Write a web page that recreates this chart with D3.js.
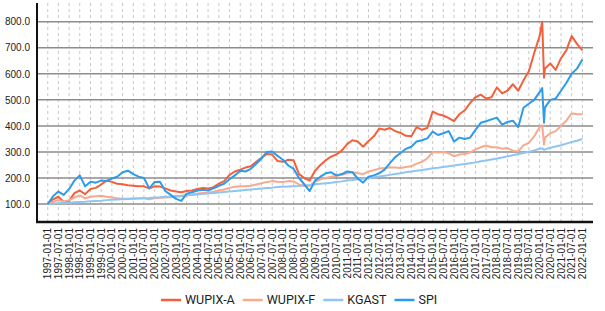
<!DOCTYPE html>
<html>
<head>
<meta charset="utf-8">
<script src="https://cdn.jsdelivr.net/npm/d3@7"></script>
<style>
  body { margin: 0; background: #fff; }
  svg { display: block; }
</style>
</head>
<body>
<div id="chart"></div>
<script>
const FRAME_WIDTH = 605;
const FRAME_HEIGHT = 311;
const MARGINS = {left: 37, right: 12, top: 3, bottom: 89};
const VIS_WIDTH = FRAME_WIDTH - MARGINS.left - MARGINS.right;
const VIS_HEIGHT = FRAME_HEIGHT - MARGINS.top - MARGINS.bottom;

// data (quarterly, plus the 2020 spike)
const dates = [
  "1997-01-01","1997-04-01","1997-07-01","1997-10-01",
  "1998-01-01","1998-04-01","1998-07-01","1998-10-01",
  "1999-01-01","1999-04-01","1999-07-01","1999-10-01",
  "2000-01-01","2000-04-01","2000-07-01","2000-10-01",
  "2001-01-01","2001-04-01","2001-07-01","2001-10-01",
  "2002-01-01","2002-04-01","2002-07-01","2002-10-01",
  "2003-01-01","2003-04-01","2003-07-01","2003-10-01",
  "2004-01-01","2004-04-01","2004-07-01","2004-10-01",
  "2005-01-01","2005-04-01","2005-07-01","2005-10-01",
  "2006-01-01","2006-04-01","2006-07-01","2006-10-01",
  "2007-01-01","2007-04-01","2007-07-01","2007-10-01",
  "2008-01-01","2008-04-01","2008-07-01","2008-10-01",
  "2009-01-01","2009-04-01","2009-07-01","2009-10-01",
  "2010-01-01","2010-04-01","2010-07-01","2010-10-01",
  "2011-01-01","2011-04-01","2011-07-01","2011-10-01",
  "2012-01-01","2012-04-01","2012-07-01","2012-10-01",
  "2013-01-01","2013-04-01","2013-07-01","2013-10-01",
  "2014-01-01","2014-04-01","2014-07-01","2014-10-01",
  "2015-01-01","2015-04-01","2015-07-01","2015-10-01",
  "2016-01-01","2016-04-01","2016-07-01","2016-10-01",
  "2017-01-01","2017-04-01","2017-07-01","2017-10-01",
  "2018-01-01","2018-04-01","2018-07-01","2018-10-01",
  "2019-01-01","2019-04-01","2019-07-01","2019-10-01",
  "2020-01-01","2020-02-15","2020-03-16","2020-04-01","2020-07-01","2020-10-01",
  "2021-01-01","2021-04-01","2021-07-01","2021-10-01",
  "2022-01-01"
];

const wupixA = [
  100,118,128,108, 112,142,152,138, 158,162,175,190, 185,178,176,172,
  170,168,168,160, 168,167,160,152, 148,145,150,152, 158,162,160,165,
  178,188,212,225, 232,240,245,262, 278,292,290,265, 262,270,268,215,
  200,190,228,250, 268,282,290,305, 330,345,340,320, 342,360,390,385,
  392,380,373,362, 360,395,385,392, 455,445,440,430, 418,445,460,488,
  510,520,505,510, 548,525,535,560, 535,575,610,680,
  745,800,585,620,640,615, 660,690,745,715, 690
];

const wupixF = [
  100,108,115,110, 115,125,133,122, 128,130,132,128, 125,122,120,120,
  121,122,122,118, 122,124,125,126, 128,130,134,137, 140,142,143,147,
  152,156,162,166, 168,168,170,175, 180,185,188,186, 185,188,187,175,
  168,170,185,195, 200,205,208,212, 218,222,218,215, 225,230,236,238,
  240,240,238,242, 245,255,262,275, 300,298,300,295, 283,290,292,298,
  310,318,325,318, 318,312,315,305, 302,325,335,360,
  395,402,328,355,372,380, 400,420,448,445, 445
];

const kgast = [
  100,101,103,104, 105,107,108,109, 111,112,113,115, 116,117,118,119,
  120,121,122,123, 125,126,128,129, 131,132,134,135, 137,139,140,142,
  144,146,148,150, 152,154,156,158, 160,162,163,165, 166,167,168,169,
  172,173,176,178, 180,182,185,187, 190,192,195,197, 200,203,206,209,
  212,215,218,222, 225,228,231,234, 237,239,242,245, 248,251,254,257,
  260,264,267,271, 275,279,283,287, 292,296,301,306,
  312,314,308,310,316,321, 326,332,338,343, 350
];

const spi = [
  100,130,148,135, 158,190,210,168, 186,182,190,188, 198,205,222,228,
  215,205,200,160, 185,186,150,135, 120,112,140,145, 152,155,152,160,
  170,178,195,210, 228,225,235,255, 275,300,302,285, 270,248,235,200,
  175,150,190,205, 218,222,210,215, 225,222,198,182, 205,210,218,232,
  257,280,296,312, 320,340,345,352, 378,365,372,380, 340,355,350,355,
  385,412,418,425, 432,405,415,420, 395,470,485,500,
  530,545,412,470,500,505, 535,565,600,620, 655
];

const seriesNames = ["WUPIX-A", "WUPIX-F", "KGAST", "SPI"];
const seriesValues = [wupixA, wupixF, kgast, spi];
const seriesColors = ["#f4603c", "#f9a98e", "#90c5f2", "#2e9be8"];

const yTicks = [100, 200, 300, 400, 500, 600, 700, 800];

const parseDate = d3.timeParse("%Y-%m-%d");
const DATES = dates.map(parseDate);

const FRAME = d3.select("#chart")
                .append("svg")
                  .attr("width", FRAME_WIDTH)
                  .attr("height", FRAME_HEIGHT);

const X_SCALE = d3.scaleTime()
                  .domain([parseDate("1996-07-01"), parseDate("2022-07-01")])
                  .range([MARGINS.left, MARGINS.left + VIS_WIDTH]);

const Y_SCALE = d3.scaleLinear()
                  .domain([31, 872])
                  .range([MARGINS.top + VIS_HEIGHT, MARGINS.top]);

const xTicks = d3.timeMonth.every(6).range(parseDate("1997-01-01"), parseDate("2022-01-02"));

// vertical dashed grid
FRAME.append("g")
  .selectAll("line")
  .data(xTicks)
  .enter()
  .append("line")
    .attr("x1", d => X_SCALE(d))
    .attr("x2", d => X_SCALE(d))
    .attr("y1", MARGINS.top)
    .attr("y2", MARGINS.top + VIS_HEIGHT)
    .attr("stroke", "#c8c8c8")
    .attr("stroke-width", 1)
    .attr("stroke-dasharray", "3,3");

// horizontal grid
FRAME.append("g")
  .selectAll("line")
  .data(yTicks)
  .enter()
  .append("line")
    .attr("x1", MARGINS.left)
    .attr("x2", MARGINS.left + VIS_WIDTH)
    .attr("y1", d => Y_SCALE(d))
    .attr("y2", d => Y_SCALE(d))
    .attr("stroke", "#8c8c8c")
    .attr("stroke-width", 1.5);

// y axis labels
FRAME.append("g")
  .attr("transform", "translate(" + MARGINS.left + ",0)")
  .call(d3.axisLeft(Y_SCALE).tickValues(yTicks).tickFormat(d3.format(".1f")).tickSize(0).tickPadding(7))
  .call(g => g.select(".domain").remove())
  .selectAll("text")
    .attr("font-family", "Liberation Sans, Arial, sans-serif")
    .attr("font-size", "10px")
    .attr("fill", "#222");

// x axis labels, rotated
const fmt = d3.timeFormat("%Y-%m-%d");
FRAME.append("g")
  .selectAll("text")
  .data(xTicks)
  .enter()
  .append("text")
    .attr("transform", d => "translate(" + X_SCALE(d) + "," + (MARGINS.top + VIS_HEIGHT + 6) + ") rotate(-90)")
    .attr("text-anchor", "end")
    .attr("dy", "0.35em")
    .attr("font-family", "Liberation Sans, Arial, sans-serif")
    .attr("font-size", "10px")
    .attr("fill", "#222")
    .text(d => fmt(d));

// lines
const line = d3.line()
  .x((d, i) => X_SCALE(DATES[i]))
  .y(d => Y_SCALE(d));

FRAME.append("g")
  .selectAll("path")
  .data(seriesValues)
  .enter()
  .append("path")
    .attr("d", d => line(d))
    .attr("fill", "none")
    .attr("stroke", (d, i) => seriesColors[i])
    .attr("stroke-width", 2)
    .attr("stroke-linejoin", "round");

// axis lines
FRAME.append("line")
  .attr("x1", MARGINS.left).attr("x2", MARGINS.left)
  .attr("y1", MARGINS.top).attr("y2", MARGINS.top + VIS_HEIGHT)
  .attr("stroke", "#111").attr("stroke-width", 2);

FRAME.append("line")
  .attr("x1", MARGINS.left - 1).attr("x2", MARGINS.left + VIS_WIDTH)
  .attr("y1", MARGINS.top + VIS_HEIGHT).attr("y2", MARGINS.top + VIS_HEIGHT)
  .attr("stroke", "#111").attr("stroke-width", 2.5);

// legend
const legend = FRAME.append("g").attr("transform", "translate(0,300)");
let lx = 161;
seriesNames.forEach((name, i) => {
  legend.append("line")
    .attr("x1", lx).attr("x2", lx + 20)
    .attr("y1", 0).attr("y2", 0)
    .attr("stroke", seriesColors[i])
    .attr("stroke-width", 2.5);
  const t = legend.append("text")
    .attr("x", lx + 24)
    .attr("y", 0)
    .attr("dy", "0.35em")
    .attr("font-family", "Roboto, sans-serif")
    .attr("font-size", "12.5px")
    .attr("fill", "#222")
    .text(name);
  lx += 24 + t.node().getComputedTextLength() + 8;
});
</script>
</body>
</html>
